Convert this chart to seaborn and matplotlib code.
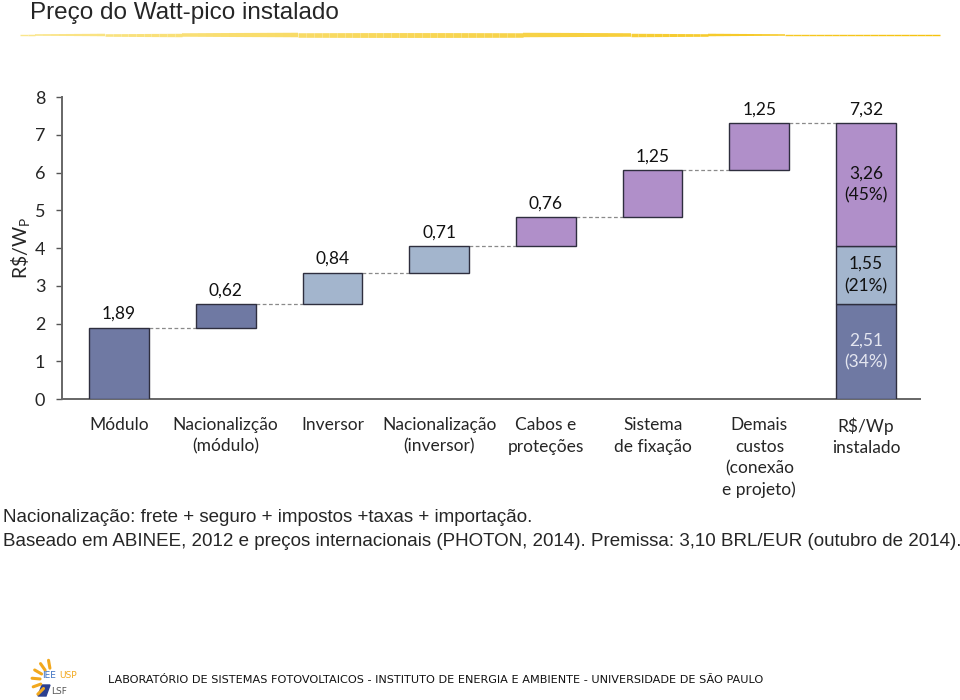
import numpy as np
import matplotlib
matplotlib.use("Agg")
import matplotlib.pyplot as plt
import seaborn as sns

# data
categories = ["Módulo", "Nacionalizção\n(módulo)", "Inversor", "Nacionalização\n(inversor)",
              "Cabos e\nproteções", "Sistema\nde fixação", "Demais\ncustos\n(conexão\ne projeto)",
              "R$/Wp\ninstalado"]
increments = [1.89, 0.62, 0.84, 0.71, 0.76, 1.25, 1.25]
groups = ["modulo", "modulo", "inversor", "inversor", "outros", "outros", "outros"]
total_parts = [2.51, 1.55, 3.26]
total_groups = ["modulo", "inversor", "outros"]
total_pct = [34, 21, 45]
yticks = [0, 1, 2, 3, 4, 5, 6, 7, 8]

palette = {"modulo": "#6f79a3", "inversor": "#a3b5cd", "outros": "#b08fc9"}

sns.set_theme(style="ticks")
plt.rcParams["font.family"] = ["Lato", "DejaVu Sans"]
plt.rcParams["mathtext.fontset"] = "custom"
plt.rcParams["mathtext.rm"] = "Lato"

def br(v):
    return f"{v:.2f}".replace(".", ",")

fig = plt.figure(figsize=(9.6, 7), dpi=100)
ax = fig.add_axes([0.0646, 0.43, 0.8938, 0.4314])

width = 0.56
n = len(increments)
tops = np.cumsum(increments)
bottoms = tops - np.array(increments)
xs = np.arange(n)

# waterfall steps
ax.bar(xs, increments, width=width, bottom=bottoms,
       color=[palette[g] for g in groups], edgecolor="#2e2e3e", linewidth=1, zorder=3)
for x, b, v in zip(xs, bottoms, increments):
    ax.annotate(br(v), (x, b + v), xytext=(0, 4), textcoords="offset points",
                ha="center", va="bottom", fontsize=12.5, color="#111")

# total stacked bar
xt = n
base = 0
for part, g, pct in zip(total_parts, total_groups, total_pct):
    ax.bar(xt, part, width=width, bottom=base, color=palette[g],
           edgecolor="#2e2e3e", linewidth=1, zorder=3)
    ax.text(xt, base + part / 2, f"{br(part)}\n({pct}%)", ha="center", va="center",
            fontsize=12.5, linespacing=1.45,
            color="#e4e6f0" if g == "modulo" else "#111")
    base += part
ax.annotate(br(base), (xt, base), xytext=(0, 4), textcoords="offset points",
            ha="center", va="bottom", fontsize=12.5, color="#111")

# dashed connectors
levels = list(tops)
for i in range(n):
    ax.plot([i + width / 2, i + 1 - width / 2], [levels[i], levels[i]],
            color="#8a8a8a", lw=0.9, ls=(0, (3, 2)), zorder=2)

ax.set_xlim(-0.534, 7.506)
ax.set_ylim(0, 8)
ax.set_yticks(yticks)
ax.set_yticklabels([str(t) for t in yticks], fontsize=13)
ax.set_xticks(np.arange(len(categories)))
ax.set_xticklabels(categories, fontsize=12.5, linespacing=1.42, va="top")
ax.tick_params(axis="x", length=0, pad=13)
ax.tick_params(axis="y", length=4, width=1, color="#555", pad=8)
sns.despine(ax=ax)
for s in ["left", "bottom"]:
    ax.spines[s].set_color("#666")
    ax.spines[s].set_linewidth(1.4)
ax.set_ylabel("R\\$/W$_{\\mathrm{P}}$", fontsize=14)
ax.yaxis.set_label_coords(-0.034, 0.5)

# page decoration: title, gold rule, notes, footer
bg = fig.add_axes([0, 0, 1, 1], zorder=-1)
bg.set_xlim(0, 960)
bg.set_ylim(700, 0)
bg.axis("off")
seg = np.linspace(20, 940, 120)
for a, b in zip(seg[:-1], seg[1:]):
    t = (a - 20) / 920
    w = 1 + 2.5 * np.sin(np.pi * min(t * 1.2, 1.0)) if t < 0.95 else 1
    c = np.array([0.98, 0.90, 0.55]) * (1 - t) + np.array([0.96, 0.76, 0.05]) * t
    bg.plot([a, b], [35, 35], color=c, lw=w, solid_capstyle="butt")

fig.text(30 / 960, 1 - 13 / 700, "Preço do Watt-pico instalado", fontsize=17.5,
         family="Liberation Sans", va="center", ha="left")
fig.text(3 / 960, 1 - 518 / 700,
         "Nacionalização: frete + seguro + impostos +taxas + importação.",
         fontsize=13.5, family="Liberation Sans", va="center", ha="left")
fig.text(3 / 960, 1 - 541 / 700,
         "Baseado em ABINEE, 2012 e preços internacionais (PHOTON, 2014). "
         "Premissa: 3,10 BRL/EUR (outubro de 2014).",
         fontsize=13.5, family="Liberation Sans", va="center", ha="left")
fig.text(108 / 960, 1 - 680 / 700,
         "LABORATÓRIO DE SISTEMAS FOTOVOLTAICOS - INSTITUTO DE ENERGIA E AMBIENTE - "
         "UNIVERSIDADE DE SÃO PAULO",
         fontsize=8.1, family="DejaVu Sans", va="center", ha="left", color="#111")

# small logo
for ang in [100, 125, 150, 175, 200, 225]:
    r = np.deg2rad(ang)
    cx, cy = 52, 680
    bg.plot([cx + 12 * np.cos(r), cx + 20 * np.cos(r)],
            [cy - 12 * np.sin(r), cy - 20 * np.sin(r)],
            color="#f2a81d", lw=2.2, solid_capstyle="round")
bg.text(42, 676, "IEE", color="#3a6fc0", fontsize=6.5, family="DejaVu Sans", va="center")
bg.text(59, 676, "USP", color="#f2a81d", fontsize=6.5, family="DejaVu Sans", va="center")
bg.fill([38, 46, 50, 42], [696, 696, 685, 685], color="#2b3f8f")
bg.text(51, 691, "LSF", color="#555", fontsize=6.5, family="DejaVu Sans", va="center")

fig.savefig("out.png", dpi=100)
